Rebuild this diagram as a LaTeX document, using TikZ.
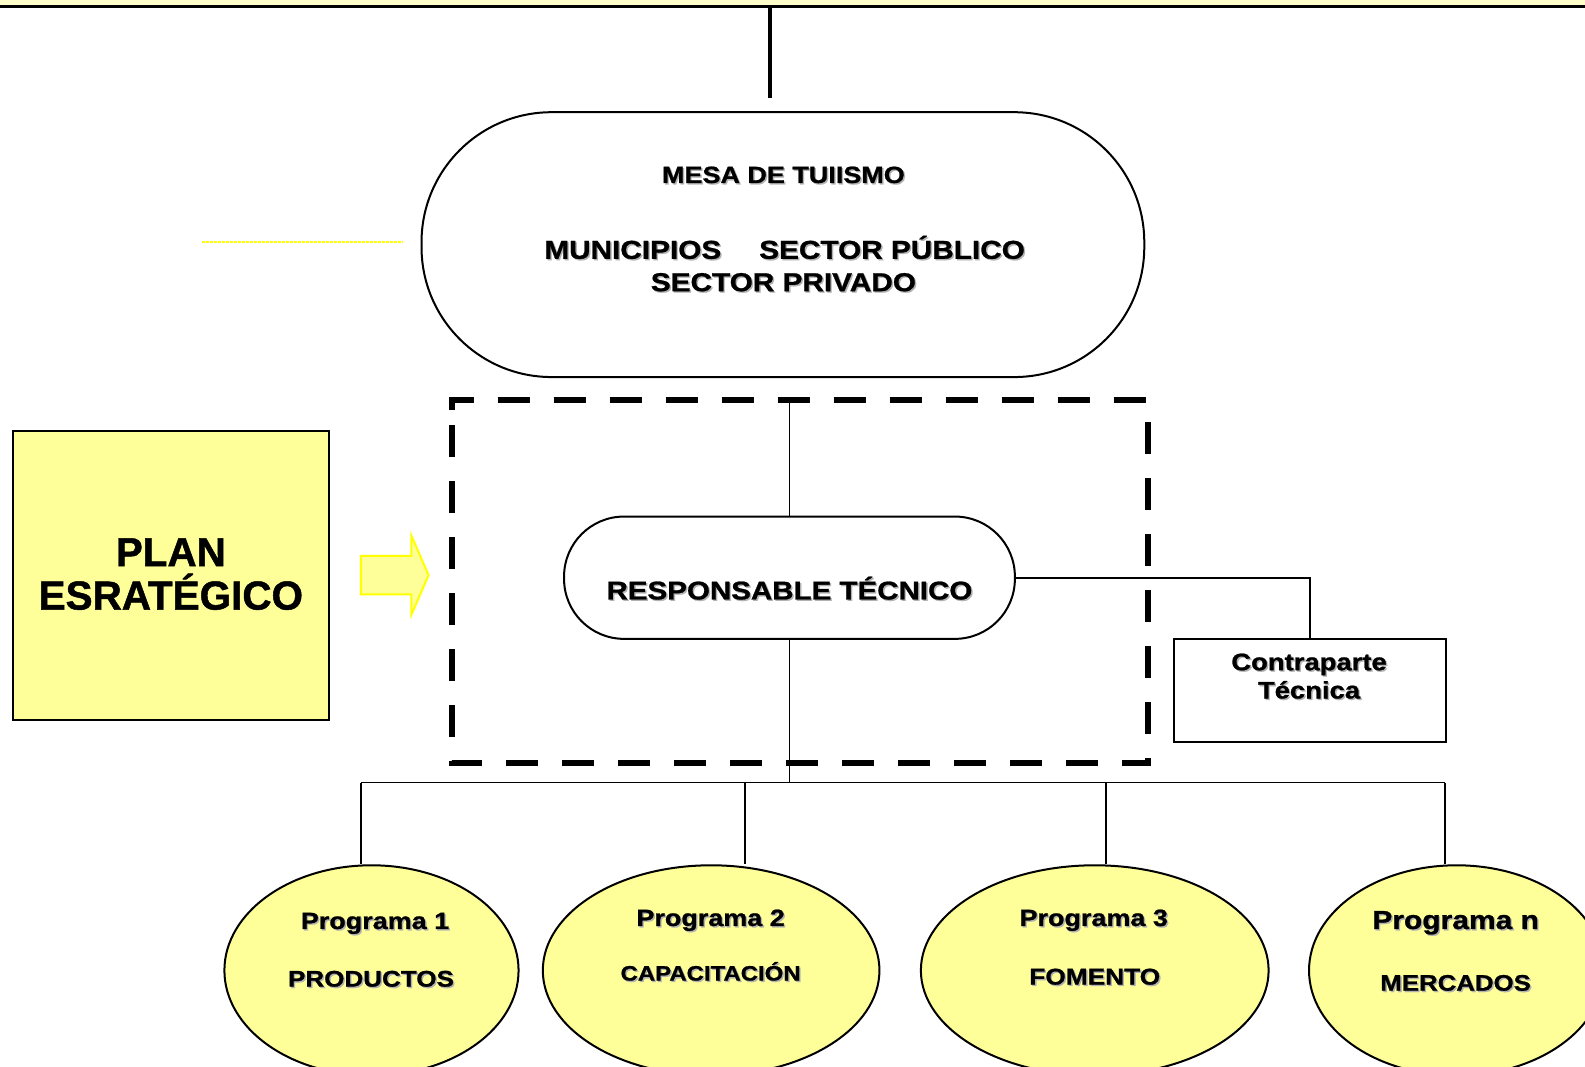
\documentclass[tikz,border=0pt]{standalone}
\usepackage{fontspec}
\setmainfont{Liberation Sans}
\newfontfamily\blk[FakeStretch=1.15,FakeBold=1]{Liberation Sans}
\newfontfamily\plf[FakeBold=1.2]{Liberation Sans}
\usetikzlibrary{shapes.geometric}
\definecolor{pyellow}{HTML}{FFFF99}
\definecolor{band}{HTML}{FFFFCC}
\definecolor{ayellow}{HTML}{FFFF00}
\newcommand\shd[1]{\rlap{\kern0.7pt\raisebox{-0.7pt}{\textcolor{black!30}{#1}}}#1}
\newcommand\fs[1]{\fontsize{#1}{#1}\selectfont}
\begin{document}
\begin{tikzpicture}[x=0.5pt,y=-0.5pt, scale=1.0108, every node/.append style={transform shape},
  txt/.style={anchor=base, inner sep=0pt, font=\blk\bfseries},
  conn/.style={line width=0.75pt},
  ell/.style={ellipse, draw, line width=1pt, fill=pyellow, inner sep=0pt}]
\useasboundingbox (0,0) rectangle (1568,1055.5);
% top band
\fill[band] (0,0) rectangle (1568,5);
\draw[line width=1.25pt] (0,6.3) -- (1568,6.3);
\coordinate (ta) at (762,6);
\coordinate (tb) at (762,97);
\draw[line width=2pt] (ta) -- (tb);
% mesa
\node[draw, line width=1pt, rounded corners=65pt, minimum width=357.5pt, minimum height=131pt, inner sep=0pt] (mesa) at (774.5,242) {};
\node[txt, font=\blk\bfseries\fs{11.6}] (m1) at (775,181) {\shd{MESA DE TUIISMO}};
\node[txt, font=\blk\bfseries\fs{12.8}] (m2) at (626,256) {\shd{MUNICIPIOS}};
\node[txt, font=\blk\bfseries\fs{12.8}] (m3) at (882.5,256) {\shd{SECTOR PÚBLICO}};
\node[txt, font=\blk\bfseries\fs{12.8}] (m4) at (775,288) {\shd{SECTOR PRIVADO}};
% dotted yellow line
\coordinate (d1) at (200,239);
\coordinate (d2) at (398,239);
\draw[ayellow, line width=1pt, dash pattern=on 1.2pt off 0.8pt] (d1) -- (d2);
% plan
\node[draw, line width=1pt, fill=pyellow, minimum width=156pt, minimum height=143pt, inner sep=0pt] (plan) at (169,569) {};
\node[anchor=base, inner sep=0pt, font=\plf\bfseries\fs{20}] (p1) at (169,560) {PLAN};
\node[anchor=base, inner sep=0pt, font=\plf\bfseries\fs{20}] (p2) at (169,603) {ESRATÉGICO};
% arrow
\filldraw[fill=pyellow, draw=ayellow, line width=1pt] (357,550) -- (407,550) -- (407,530) -- (424,569) -- (407,608) -- (407,588) -- (357,588) -- cycle;
% dashed group
\draw[line width=3pt, dash pattern=on 16pt off 12pt] (447,406) -- (447,396) -- (1136,396) -- (1136,755) -- (447,755) -- cycle;
% responsable tecnico
\node[draw, line width=1pt, fill=white, rounded corners=30pt, minimum width=223pt, minimum height=60.5pt, inner sep=0pt] (rt) at (781,571.5) {};
\node[txt, font=\blk\bfseries\fs{12.7}] (rtt) at (781,593) {\shd{RESPONSABLE TÉCNICO}};
\coordinate (gtop) at (781,396);
\draw[conn] (gtop) -- (rt.north);
% contraparte
\node[draw, line width=1pt, minimum width=134.5pt, minimum height=51pt, inner sep=0pt] (cp) at (1295.5,683) {};
\node[txt, font=\blk\bfseries\fs{11.8}] (c1) at (1295,663) {\shd{Contraparte}};
\node[txt, font=\blk\bfseries\fs{11.8}] (c2) at (1295,691) {\shd{Técnica}};
\draw[conn] (rt.east) -| (cp.north);
% programs
\node[ell, minimum width=145.5pt, minimum height=104pt] (e1) at (367.5,960) {};
\node[ell, minimum width=166.5pt, minimum height=104pt] (e2) at (703.5,960) {};
\node[ell, minimum width=172pt, minimum height=104pt] (e3) at (1083,960) {};
\node[ell, minimum width=146pt, minimum height=104pt] (e4) at (1441,960) {};
\coordinate (bus) at (781,774);
\coordinate (b1) at (357,774);
\coordinate (b2) at (737,774);
\coordinate (b3) at (1094,774);
\coordinate (b4) at (1429,774);
\draw[conn] (rt.south) -- (bus);
\draw[conn] (b1) -- (b4);
\draw[conn] (b1) -- (b1 |- e1.north);
\draw[conn] (b2) -- (b2 |- e2.north);
\draw[conn] (b3) -- (b3 |- e3.north);
\draw[conn] (b4) -- (b4 |- e4.north);
\node[txt, font=\blk\bfseries\fs{11.6}] (e1a) at (371,919) {\shd{Programa 1}};
\node[txt, font=\blk\bfseries\fs{11.2}] (e1b) at (367,976) {\shd{PRODUCTOS}};
\node[txt, font=\blk\bfseries\fs{11.6}] (e2a) at (703,916) {\shd{Programa 2}};
\node[txt, font=\blk\bfseries\fs{10.3}] (e2b) at (703,970) {\shd{CAPACITACIÓN}};
\node[txt, font=\blk\bfseries\fs{11.6}] (e3a) at (1082,916) {\shd{Programa 3}};
\node[txt, font=\blk\bfseries\fs{11.3}] (e3b) at (1083,974) {\shd{FOMENTO}};
\node[txt, font=\blk\bfseries\fs{12.9}] (e4a) at (1440,919) {\shd{Programa n}};
\node[txt, font=\blk\bfseries\fs{11.1}] (e4b) at (1440,980) {\shd{MERCADOS}};
\end{tikzpicture}
\end{document}
